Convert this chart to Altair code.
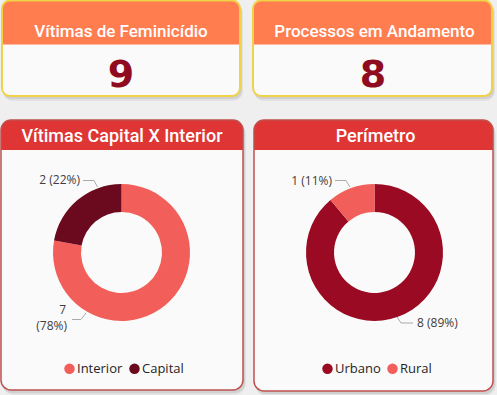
import altair as alt
import pandas as pd

# ---- data ----
kpi_titles = ["Vítimas de Feminicídio", "Processos em Andamento"]
kpi_values = [9, 8]

panel_titles = ["Vítimas Capital X Interior", "Perímetro"]

cap_int_cats = ["Interior", "Capital"]
cap_int_vals = [7, 2]
cap_int_colors = ["#F25F5A", "#6B0A1E"]

perim_cats = ["Urbano", "Rural"]
perim_vals = [8, 1]
perim_colors = ["#9A0B23", "#F25F5A"]

one = alt.Data(values=[{}])
TITLE_FONT = "Roboto"
LABEL_FONT = "Open Sans"


def box(x, x2, y, y2, **mk):
    return alt.Chart(one).mark_rect(**mk).encode(
        x=alt.value(x), x2=alt.value(x2), y=alt.value(y), y2=alt.value(y2))


def txt(s, x, y, **mk):
    return alt.Chart(one).mark_text(**mk).encode(
        x=alt.value(x), y=alt.value(y), text=alt.value(s))


def seg(x, y, x2, y2):
    return alt.Chart(one).mark_rule(color="#AAAAAA", strokeWidth=1).encode(
        x=alt.value(x), y=alt.value(y), x2=alt.value(x2), y2=alt.value(y2))


def card(x, x2, y, y2, head_h, head_col, border_col, r, bw):
    layers = []
    # shadow
    layers.append(box(x + 1, x2 + 3, y + 3, y2 + 5, fill="#000000", opacity=0.05, cornerRadius=r + 2))
    layers.append(box(x + 1, x2 + 2, y + 2, y2 + 3, fill="#000000", opacity=0.08, cornerRadius=r))
    # body
    layers.append(box(x, x2, y, y2, fill="#FAFAFA", cornerRadius=r))
    # header
    layers.append(box(x, x2, y, y + head_h, fill=head_col,
                      cornerRadiusTopLeft=r, cornerRadiusTopRight=r))
    # border
    layers.append(box(x, x2, y, y2, fill="transparent", stroke=border_col,
                      strokeWidth=bw, cornerRadius=r))
    return layers


def donut(cats, vals, colors, cx, cy, lx, ly):
    df = pd.DataFrame({"cat": cats, "value": vals, "order": list(range(len(cats)))})
    return alt.Chart(df).mark_arc(outerRadius=68.5, innerRadius=40.5).encode(
        theta=alt.Theta("value:Q", stack=True),
        order=alt.Order("order:Q", sort="ascending"),
        color=alt.Color(
            "cat:N",
            sort=cats,
            scale=alt.Scale(domain=cats, range=colors),
            legend=alt.Legend(
                title=None, orient="none", legendX=lx, legendY=ly,
                direction="horizontal", symbolType="circle", symbolSize=110,
                symbolStrokeWidth=0, labelFontSize=13, labelFont=LABEL_FONT,
                labelColor="#252423", labelOffset=1, columnPadding=5, padding=0,
            ),
        ),
        x=alt.value(cx), y=alt.value(cy),
    )


def pct(v, total):
    return f"({round(100 * v / total)}%)"


layers = []
# KPI cards
layers += card(2, 240, 0.5, 96, 44, "#FF7D4F", "#F0D246", 8, 2)
layers += card(253, 492, 0.5, 96, 44, "#FF7D4F", "#F0D246", 8, 2)
# panel cards
layers += card(1, 243, 120, 390, 30, "#DF3535", "#C0504D", 10, 1.5)
layers += card(254, 493, 120, 391, 30, "#DF3535", "#C0504D", 10, 1.5)

# KPI texts
layers.append(txt(kpi_titles[0], 121, 37, font=TITLE_FONT, fontSize=17, fontWeight=500,
                  color="#FFFFFF", align="center", baseline="alphabetic"))
layers.append(txt(kpi_titles[1], 374.5, 37, font=TITLE_FONT, fontSize=17, fontWeight=500,
                  color="#FFFFFF", align="center", baseline="alphabetic"))
layers.append(txt(str(kpi_values[0]), 121, 87, font="DejaVu Sans", fontSize=38, fontWeight="bold",
                  color="#8E0B20", align="center", baseline="alphabetic"))
layers.append(txt(str(kpi_values[1]), 373, 87, font="DejaVu Sans", fontSize=38, fontWeight="bold",
                  color="#8E0B20", align="center", baseline="alphabetic"))

# panel titles
layers.append(txt(panel_titles[0], 122, 142, font=TITLE_FONT, fontSize=18, fontWeight=500,
                  color="#FFFFFF", align="center", baseline="alphabetic"))
layers.append(txt(panel_titles[1], 375.5, 142, font=TITLE_FONT, fontSize=18, fontWeight=500,
                  color="#FFFFFF", align="center", baseline="alphabetic"))

# donuts
d1 = donut(cap_int_cats, cap_int_vals, cap_int_colors, 121.5, 252.5, 63, 362)
d2 = donut(perim_cats, perim_vals, perim_colors, 374.5, 252.5, 321, 362)

# data labels + leader lines
t1 = sum(cap_int_vals)
t2 = sum(perim_vals)
lbl = dict(font=LABEL_FONT, fontSize=12, color="#404040", baseline="middle")
layers.append(txt(f"{cap_int_vals[1]} {pct(cap_int_vals[1], t1)}", 80, 180, align="right", **lbl))
layers.append(txt(f"{cap_int_vals[0]}", 66, 310, align="right", **lbl))
layers.append(txt(pct(cap_int_vals[0], t1), 67, 326, align="right", **lbl))
layers.append(txt(f"{perim_vals[1]} {pct(perim_vals[1], t2)}", 332, 181, align="right", **lbl))
layers.append(txt(f"{perim_vals[0]} {pct(perim_vals[0], t2)}", 417, 323, align="left", **lbl))

layers += [seg(83, 180.5, 94, 180.5), seg(94, 180.5, 97.5, 187)]
layers += [seg(72, 319.5, 81, 319.5), seg(81, 319.5, 86, 313)]
layers += [seg(335, 180.5, 346, 180.5), seg(346, 180.5, 350, 187)]
layers += [seg(397, 317, 401, 323), seg(401, 323, 413, 323)]

layers += [d1, d2]

chart = alt.layer(*layers).resolve_scale(
    theta="independent", color="independent"
).properties(
    width=497, height=395, padding=0, autosize="none", background="#EFEFEF"
).configure_view(stroke=None)

chart.save("out.html", embed_options={"renderer": "svg", "actions": False})
